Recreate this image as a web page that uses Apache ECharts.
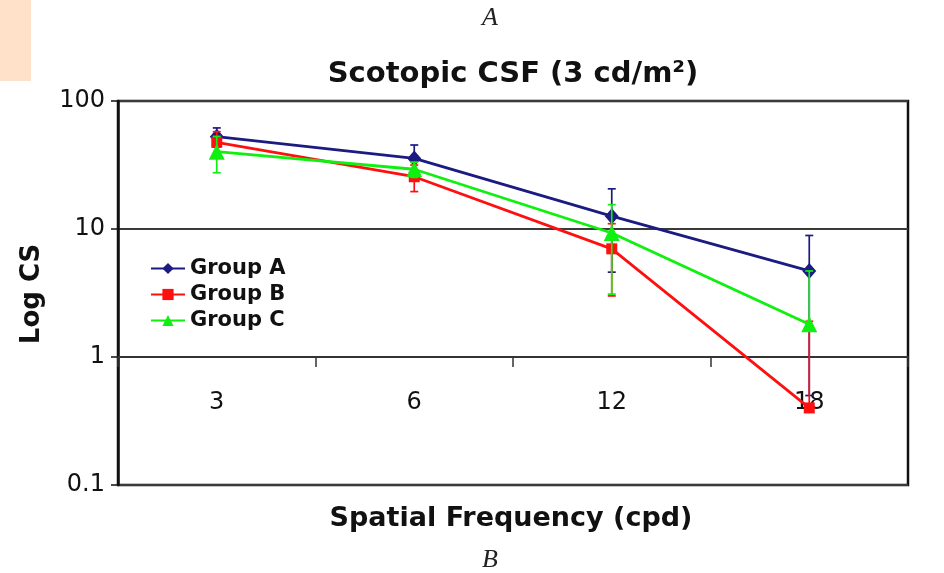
<!DOCTYPE html>
<html><head><meta charset="utf-8">
<script src="https://cdn.jsdelivr.net/npm/echarts@6/dist/echarts.min.js"></script>
<style>html,body{margin:0;padding:0;background:#fff}#c{width:944px;height:573px}</style>
</head><body><div id="c"></div>
<script>
// ---- data ----
const categories = ['3', '6', '12', '18'];
const seriesNames = ['Group A', 'Group B', 'Group C'];
const groupA = [52.6, 35.6, 12.6, 4.7];
const groupB = [47.6, 25.6, 7.0, 0.40];
const groupC = [40.2, 29.3, 9.3, 1.8];
const errA = [9, 9.7, 8, 4.2];
const errB = [10, 6, 4, 1.5];
const errC = [12.7, 4, 6.2, 2.9];
const yMin = 0.1, yMax = 100;

const colA = '#1b1b82', colB = '#ff1010', colC = '#10f010';

function errSeries(name, vals, errs, color, z) {
  return {
    type: 'custom', name: name + ' error', z: z, silent: true,
    data: vals.map((v, i) => [i, v, errs[i]]),
    encode: { x: 0, y: 1 },
    renderItem: function (params, api) {
      const i = api.value(0), v = api.value(1), e = api.value(2);
      const hi = api.coord([i, v + e]);
      const mid = api.coord([i, v]);
      const lo = (v - e > 0) ? api.coord([i, v - e]) : null;
      const cap = 4;
      const st = { stroke: color, lineWidth: 1.7 };
      const ch = [
        { type: 'line', shape: { x1: hi[0], y1: hi[1], x2: hi[0], y2: lo ? lo[1] : mid[1] }, style: st },
        { type: 'line', shape: { x1: hi[0] - cap, y1: hi[1], x2: hi[0] + cap, y2: hi[1] }, style: st }
      ];
      if (lo) ch.push({ type: 'line', shape: { x1: lo[0] - cap, y1: lo[1], x2: lo[0] + cap, y2: lo[1] }, style: st });
      return { type: 'group', children: ch };
    }
  };
}

const chart = echarts.init(document.getElementById('c'), null, { renderer: 'canvas' });
chart.setOption({
  animation: false,
  backgroundColor: '#fff',
  title: {
    text: 'Scotopic CSF (3 cd/m²)',
    left: 508, top: 55, textAlign: 'center',
    textStyle: { fontFamily: 'DejaVu Sans', fontWeight: 'bold', fontSize: 29, color: '#111' }
  },
  legend: {
    data: seriesNames, orient: 'vertical', left: 150, top: 258, padding: 0,
    itemWidth: 34, itemHeight: 14, itemGap: 5,
    textStyle: { fontFamily: 'DejaVu Sans', fontWeight: 'bold', fontSize: 21, color: '#111' }
  },
  grid: {
    left: 118, right: 36, top: 101, bottom: 88, show: true,
    borderColor: '#111', borderWidth: 2.5, outerBoundsMode: 'none', containLabel: false
  },
  xAxis: {
    type: 'category', data: categories, boundaryGap: true, offset: -128,
    axisLine: { show: true, lineStyle: { color: '#333', width: 1.8 } },
    axisTick: { show: true, length: 10, lineStyle: { color: '#333', width: 1.5 } },
    axisLabel: { margin: 34, fontFamily: 'DejaVu Sans', fontSize: 24, color: '#111' },
    splitLine: { show: false }
  },
  yAxis: {
    type: 'log', logBase: 10, min: yMin, max: yMax,
    axisLine: { show: true, lineStyle: { color: '#111', width: 2.5 } },
    axisTick: { show: true, length: 7, lineStyle: { color: '#111', width: 1.5 } },
    axisLabel: { margin: 13, fontFamily: 'DejaVu Sans', fontSize: 24, color: '#111',
      formatter: v => String(+(+v).toPrecision(3)) },
    splitLine: { show: true, lineStyle: { color: '#3a3a3a', width: 1.8 } }
  },
  graphic: [
    { type: 'rect', shape: { x: 0, y: 0, width: 31, height: 81 }, style: { fill: '#ffe0c8' } },
    { type: 'text', x: 490, y: 18, style: { text: 'A', align: 'center', verticalAlign: 'middle', font: 'italic 26px "Liberation Serif"', fill: '#222' } },
    { type: 'text', x: 490, y: 560, style: { text: 'B', align: 'center', verticalAlign: 'middle', font: 'italic 26px "Liberation Serif"', fill: '#222' } },
    { type: 'text', x: 511, y: 519, style: { text: 'Spatial Frequency (cpd)', align: 'center', verticalAlign: 'middle', font: 'bold 27px "DejaVu Sans"', fill: '#111' } },
    { type: 'text', x: 32, y: 294, rotation: Math.PI / 2, style: { text: 'Log CS', align: 'center', verticalAlign: 'middle', font: 'bold 26px "DejaVu Sans"', fill: '#111' } }
  ],
  series: [
    errSeries('Group A', groupA, errA, colA, 3),
    { name: 'Group A', type: 'line', data: groupA, z: 4, symbol: 'diamond', symbolSize: [14, 16],
      lineStyle: { color: colA, width: 2.8 }, itemStyle: { color: colA } },
    errSeries('Group B', groupB, errB, colB, 5),
    { name: 'Group B', type: 'line', data: groupB, z: 6, symbol: 'rect', symbolSize: 11,
      lineStyle: { color: colB, width: 2.8 }, itemStyle: { color: colB } },
    errSeries('Group C', groupC, errC, colC, 7),
    { name: 'Group C', type: 'line', data: groupC, z: 8, symbol: 'triangle', symbolSize: 16,
      lineStyle: { color: colC, width: 2.8 }, itemStyle: { color: colC } }
  ]
});
</script></body></html>
